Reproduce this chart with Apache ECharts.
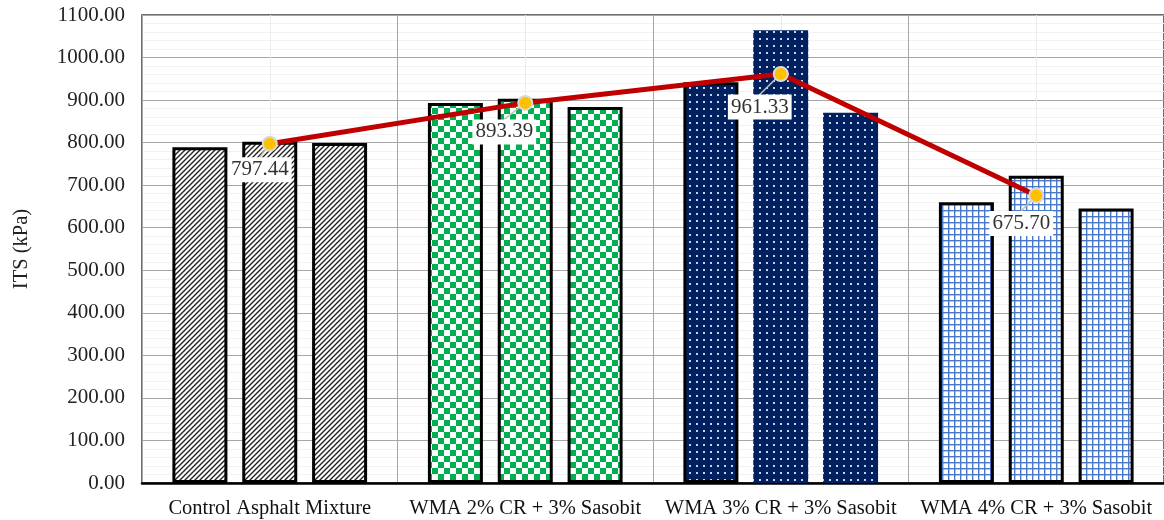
<!DOCTYPE html>
<html lang="en">
<head>
    <meta charset="UTF-8">
    <title>ITS chart</title>
    <script src="https://cdn.jsdelivr.net/npm/echarts@6.0.0/dist/echarts.min.js"></script>
</head>
<body style="margin:0;background:#fff;">
    <div id="main" style="width: 1164px;height:520px;"></div>
    <script type="text/javascript">
        // data
        const categories = ['Control Asphalt Mixture', 'WMA 2% CR + 3% Sasobit', 'WMA 3% CR + 3% Sasobit', 'WMA 4% CR + 3% Sasobit'];
        const sample1 = [789, 893, 942, 660];
        const sample2 = [802, 903, 1064, 722];
        const sample3 = [799, 884, 870, 645];
        const meanITS = [797.44, 893.39, 961.33, 675.70];
        const yTicks = [0, 1100, 100];

        // where each average label sits relative to its point (px)
        const labelDx = [-10, -21, -21, -15];
        const labelDy = [26, 29, 33, 28];

        // pattern fills, one per group
        function tile(w, h, draw) {
            const c = document.createElement('canvas');
            c.width = w; c.height = h;
            draw(c.getContext('2d'));
            return { image: c, repeat: 'repeat' };
        }
        const hatch = tile(5, 5, g => {
            g.fillStyle = '#fff'; g.fillRect(0, 0, 5, 5);
            g.strokeStyle = '#222'; g.lineWidth = 1.4;
            g.beginPath();
            g.moveTo(-1, 6); g.lineTo(6, -1);
            g.moveTo(-1, 1); g.lineTo(1, -1);
            g.moveTo(4, 6); g.lineTo(6, 4);
            g.stroke();
        });
        const checker = tile(12, 12, g => {
            g.fillStyle = '#fff'; g.fillRect(0, 0, 12, 12);
            g.fillStyle = '#00B050';
            g.fillRect(0, 0, 6, 6); g.fillRect(6, 6, 6, 6);
        });
        const dots = tile(7, 7, g => {
            g.fillStyle = '#002060'; g.fillRect(0, 0, 7, 7);
            g.fillStyle = '#c9d3ea';
            g.fillRect(3, 3, 2, 2);
        });
        const blueGrid = tile(6, 6, g => {
            g.fillStyle = '#fff'; g.fillRect(0, 0, 6, 6);
            g.fillStyle = '#4a78c8';
            g.fillRect(0, 0, 6, 1.4); g.fillRect(0, 0, 1.4, 6);
        });
        const fills = [hatch, checker, dots, blueGrid];

        function barData(vals, idx) {
            return vals.map((v, i) => ({
                value: v,
                itemStyle: {
                    color: fills[i],
                    borderColor: (i === 2 && idx > 0) ? '#002060' : '#000',
                    borderWidth: (i === 2 && idx > 0) ? 0 : 3
                }
            }));
        }

        const serif = 'Liberation Serif, Times New Roman, serif';
        let myChart = echarts.init(document.getElementById('main'));

        let options = {
            animation: false,
            grid: { left: 142, right: -2, top: 15, bottom: 37, show: true, borderColor: '#404040', borderWidth: 1.5 },
            xAxis: [{
                type: 'category',
                data: categories,
                axisLine: { lineStyle: { color: '#000', width: 2.5 } },
                axisTick: { show: false },
                splitLine: { show: false },
                axisLabel: { interval: 0, fontFamily: serif, fontSize: 20.5, color: '#111', margin: 15 }
            }, {
                type: 'value',
                min: 0, max: 4, interval: 0.5,
                position: 'top',
                axisLine: { show: false },
                axisTick: { show: false },
                axisLabel: { show: false },
                splitLine: { show: true, lineStyle: { color: ['#a6a6a6', '#ebebeb'], width: 1 } }
            }],
            yAxis: {
                type: 'value',
                min: yTicks[0], max: yTicks[1], interval: yTicks[2],
                name: 'ITS (kPa)',
                nameLocation: 'middle',
                nameGap: 110,
                nameTextStyle: { fontFamily: serif, fontSize: 20.5, color: '#222' },
                axisLine: { show: false },
                axisTick: { show: false },
                axisLabel: { fontFamily: serif, fontSize: 21, color: '#222', margin: 17, formatter: v => v.toFixed(2) },
                splitLine: { lineStyle: { color: '#a6a6a6', width: 1 } },
                minorTick: { show: false, splitNumber: 5 },
                minorSplitLine: { show: true, lineStyle: { color: '#f2f2f2', width: 1 } }
            },
            series: [
                { name: 'Sample 1', type: 'bar', barWidth: 55, barGap: '27%', data: barData(sample1, 0) },
                { name: 'Sample 2', type: 'bar', barWidth: 55, barGap: '27%', data: barData(sample2, 1) },
                { name: 'Sample 3', type: 'bar', barWidth: 55, barGap: '27%', data: barData(sample3, 2) },
                {
                    name: 'Average',
                    type: 'line',
                    z: 10,
                    data: meanITS,
                    lineStyle: { color: '#C00000', width: 5 },
                    symbol: 'circle',
                    symbolSize: 14,
                    itemStyle: { color: '#FFC000', borderColor: '#d9d9d9', borderWidth: 2 },
                    label: {
                        show: true,
                        position: 'inside',
                        formatter: p => p.value.toFixed(2),
                        fontFamily: serif,
                        fontSize: 21,
                        color: '#333',
                        backgroundColor: '#fff',
                        padding: [2, 3]
                    },
                    labelLayout: p => ({ dx: labelDx[p.dataIndex], dy: labelDy[p.dataIndex] }),
                    labelLine: { show: true, lineStyle: { color: '#bfbfbf', width: 1.5 } }
                }
            ]
        };
        myChart.setOption(options);
    </script>
</body>
</html>
